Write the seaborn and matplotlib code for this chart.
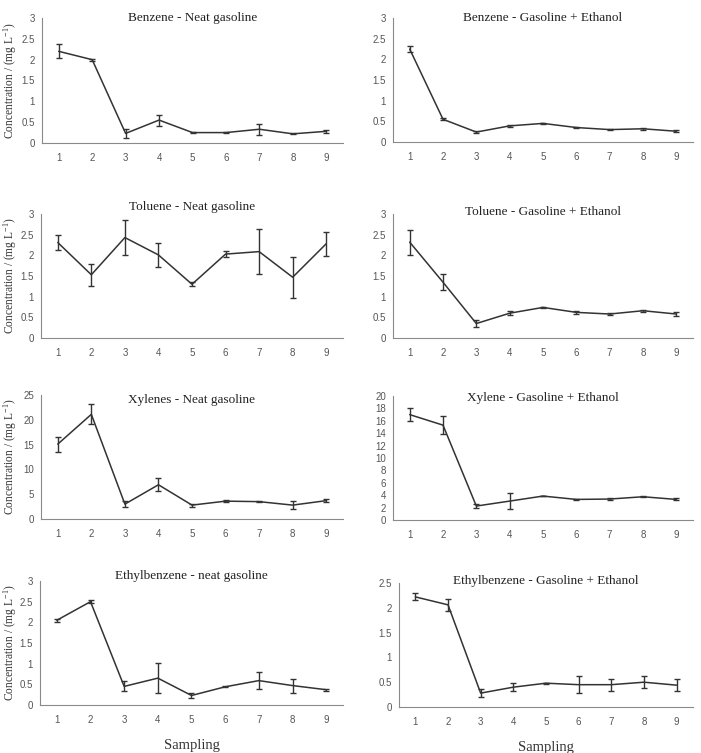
import numpy as np
import pandas as pd
import matplotlib
matplotlib.use("Agg")
import matplotlib.pyplot as plt
import seaborn as sns

sampling = [1, 2, 3, 4, 5, 6, 7, 8, 9]

titles = ["Benzene - Neat gasoline", "Benzene - Gasoline + Ethanol",
          "Toluene - Neat gasoline", "Toluene - Gasoline + Ethanol",
          "Xylenes - Neat gasoline", "Xylene - Gasoline + Ethanol",
          "Ethylbenzene - neat gasoline", "Ethylbenzene - Gasoline + Ethanol"]

benzene_neat = [2.2, 2.0, 0.23, 0.55, 0.25, 0.25, 0.33, 0.22, 0.28]
benzene_neat_err = [0.17, 0.02, 0.1, 0.13, 0.01, 0.01, 0.13, 0.01, 0.04]
benzene_eth = [2.25, 0.55, 0.24, 0.39, 0.45, 0.35, 0.3, 0.32, 0.26]
benzene_eth_err = [0.07, 0.02, 0.02, 0.03, 0.02, 0.02, 0.02, 0.02, 0.02]

toluene_neat = [2.31, 1.53, 2.43, 2.01, 1.3, 2.03, 2.09, 1.47, 2.28]
toluene_neat_err = [0.18, 0.26, 0.42, 0.29, 0.05, 0.07, 0.55, 0.5, 0.29]
toluene_eth = [2.32, 1.35, 0.35, 0.6, 0.74, 0.62, 0.58, 0.66, 0.58]
toluene_eth_err = [0.3, 0.2, 0.08, 0.05, 0.01, 0.04, 0.03, 0.02, 0.04]

xylene_neat = [15.1, 21.1, 3.0, 6.9, 2.8, 3.6, 3.5, 2.8, 3.7]
xylene_neat_err = [1.5, 2.0, 0.6, 1.3, 0.3, 0.15, 0.15, 0.8, 0.3]
xylene_eth = [17.0, 15.3, 2.25, 3.05, 3.86, 3.32, 3.38, 3.75, 3.32]
xylene_eth_err = [1.0, 1.4, 0.35, 1.35, 0.05, 0.05, 0.1, 0.05, 0.15]

ethylb_neat = [2.05, 2.5, 0.45, 0.65, 0.23, 0.44, 0.59, 0.47, 0.37]
ethylb_neat_err = [0.04, 0.04, 0.12, 0.37, 0.05, 0.01, 0.2, 0.17, 0.02]
ethylb_eth = [2.22, 2.06, 0.28, 0.4, 0.48, 0.45, 0.45, 0.5, 0.44]
ethylb_eth_err = [0.07, 0.12, 0.08, 0.08, 0.01, 0.17, 0.12, 0.12, 0.12]

series = [(benzene_neat, benzene_neat_err), (benzene_eth, benzene_eth_err),
          (toluene_neat, toluene_neat_err), (toluene_eth, toluene_eth_err),
          (xylene_neat, xylene_neat_err), (xylene_eth, xylene_eth_err),
          (ethylb_neat, ethylb_neat_err), (ethylb_eth, ethylb_eth_err)]

yticks = [np.arange(0, 3.01, 0.5), np.arange(0, 3.01, 0.5),
          np.arange(0, 3.01, 0.5), np.arange(0, 3.01, 0.5),
          np.arange(0, 25.1, 5), np.arange(0, 20.1, 2),
          np.arange(0, 3.01, 0.5), np.arange(0, 2.51, 0.5)]

sns.set_style("white")
plt.rcParams['font.family'] = ['Liberation Sans', 'DejaVu Sans']
plt.rcParams['mathtext.fontset'] = 'custom'
plt.rcParams['mathtext.rm'] = 'Liberation Serif'
plt.rcParams['mathtext.it'] = 'Liberation Serif:italic'
plt.rcParams['mathtext.default'] = 'rm'
serif = ['Liberation Serif', 'DejaVu Serif']

fig = plt.figure(figsize=(7.01, 7.53), dpi=100)

# axes boxes in pixels: left, y of zero line, right, y of top tick
boxes = [(42, 143, 343, 18), (393, 142, 693, 18),
         (41, 338, 343, 214), (393, 338, 693, 214),
         (41, 519, 343, 395), (393, 520, 693, 396),
         (40, 705, 343, 581), (399, 707, 693, 583)]
title_y = [1.0, 1.0, 1.06, 1.02, 0.96, 0.98, 1.04, 1.02]

W, H = 701.0, 753.0
line_c = "#333333"
axis_c = "#8a8a8a"

for i, (vals, errs) in enumerate(series):
    l, b, r, t = boxes[i]
    ax = fig.add_axes([l / W, 1 - b / H, (r - l) / W, (b - t) / H])
    df = pd.DataFrame({"Sampling": sampling, "Conc": vals})
    sns.lineplot(data=df, x="Sampling", y="Conc", ax=ax, color=line_c, linewidth=1.1)
    ax.errorbar(sampling, vals, yerr=errs, fmt="none", ecolor=line_c,
                elinewidth=1.0, capsize=2.5, capthick=1.0)
    ax.set_xlim(0.5, 9.5)
    ax.set_ylim(0, yticks[i][-1])
    ax.set_yticks(yticks[i])
    ax.set_yticklabels(["%g" % v for v in yticks[i]])
    ax.set_xticks(sampling)
    ax.set_xticks(np.arange(0.5, 9.6, 1), minor=True)
    ax.tick_params(axis="x", which="major", length=0, labelsize=7, colors="#555555", pad=7)
    ax.tick_params(axis="x", which="minor", length=4, width=0.8, color=axis_c, direction="out")
    ax.tick_params(axis="y", length=3, width=0.8, color=axis_c, labelsize=7,
                   labelcolor="#555555", direction="out", pad=2)
    for s in ["top", "right"]:
        ax.spines[s].set_visible(False)
    for s in ["left", "bottom"]:
        ax.spines[s].set_color(axis_c)
        ax.spines[s].set_linewidth(0.8)
    ax.set_xlabel("")
    ax.set_ylabel("")
    ax.text(0.5, title_y[i], titles[i], transform=ax.transAxes, ha="center",
            va="center", fontsize=9.5, family=serif, color="#222222")
    if i % 2 == 0:
        ax.set_ylabel("Concentration / (mg L$^{-1}$)", family=serif, fontsize=8.3,
                      color="#333333")
        ax.yaxis.set_label_coords((19 - l) / (r - l), 0.5)
    if i >= 6:
        ax.set_xlabel("Sampling", family=serif, fontsize=10.5, color="#333333", labelpad=10)

fig.savefig("out.png", dpi=100)
